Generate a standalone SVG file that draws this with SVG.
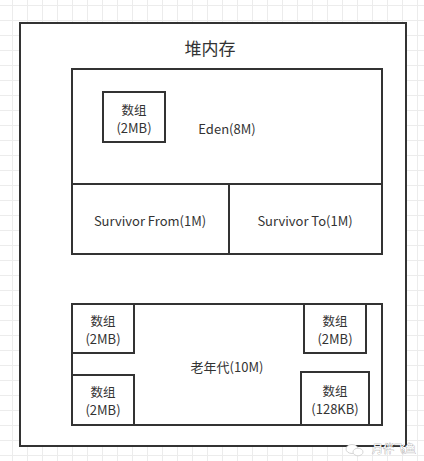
<svg xmlns="http://www.w3.org/2000/svg" width="424" height="461" viewBox="0 0 424 461">
<defs>
<pattern id="grid" x="12" y="5" width="15" height="15" patternUnits="userSpaceOnUse">
<path d="M0 0.5H15M0.5 0V15" fill="none" stroke="#ececec" stroke-width="1"/>
</pattern>
<style>
.box{fill:#fff;stroke:#333;stroke-width:2}
.t{font-family:"Noto Sans CJK SC","Liberation Sans",sans-serif;font-size:13px;fill:#333;text-anchor:middle;dominant-baseline:central}
.c{font-size:12.5px}
.title{font-size:17px}
.wm{font-family:"Noto Sans CJK SC",sans-serif;font-size:11px;fill:#fff;stroke:#999;stroke-width:0.6;paint-order:stroke}
</style>
</defs>
<rect width="424" height="461" fill="#fff"/>
<rect width="424" height="461" fill="url(#grid)"/>
<g id="heap">
<rect class="box" x="20" y="23" width="386" height="423"/>
<text class="t title" x="210" y="47">堆内存</text>
</g>
<g id="eden">
<rect class="box" x="72" y="69" width="310" height="115"/>
<text class="t" x="227" y="128">Eden(8M)</text>
</g>
<g id="eden-array">
<rect class="box" x="103" y="92" width="62" height="50"/>
<text class="t c" x="134" y="109">数组</text>
<text class="t" x="134" y="127">(2MB)</text>
</g>
<g id="survivor-from">
<rect class="box" x="72" y="184" width="157" height="70"/>
<text class="t" x="150" y="220">Survivor From(1M)</text>
</g>
<g id="survivor-to">
<rect class="box" x="229" y="184" width="153" height="70"/>
<text class="t" x="305" y="220">Survivor To(1M)</text>
</g>
<g id="old-gen">
<rect class="box" x="72" y="304" width="310" height="121"/>
<text class="t" x="227" y="366">老年代(10M)</text>
</g>
<g id="old-array-1">
<rect class="box" x="72" y="304" width="62" height="49"/>
<text class="t c" x="103" y="320">数组</text>
<text class="t" x="103" y="338">(2MB)</text>
</g>
<g id="old-array-2">
<rect class="box" x="72" y="375" width="62" height="50"/>
<text class="t c" x="103" y="391">数组</text>
<text class="t" x="103" y="409">(2MB)</text>
</g>
<g id="old-array-3">
<rect class="box" x="304" y="304" width="62" height="49"/>
<text class="t c" x="335" y="320">数组</text>
<text class="t" x="335" y="338">(2MB)</text>
</g>
<g id="old-array-4">
<rect class="box" x="301" y="372" width="68" height="53"/>
<text class="t c" x="335" y="390">数组</text>
<text class="t" x="335" y="408">(128KB)</text>
</g>
<g id="connectors"></g>
<g id="watermark">
<ellipse cx="352" cy="449" rx="6" ry="4.5" fill="#fff" stroke="#ccc" stroke-width="0.8"/>
<ellipse cx="358" cy="452" rx="5" ry="3.8" fill="#fff" stroke="#ccc" stroke-width="0.8"/>
<text class="wm" x="372" y="453">月伴飞鱼</text>
</g>
</svg>
